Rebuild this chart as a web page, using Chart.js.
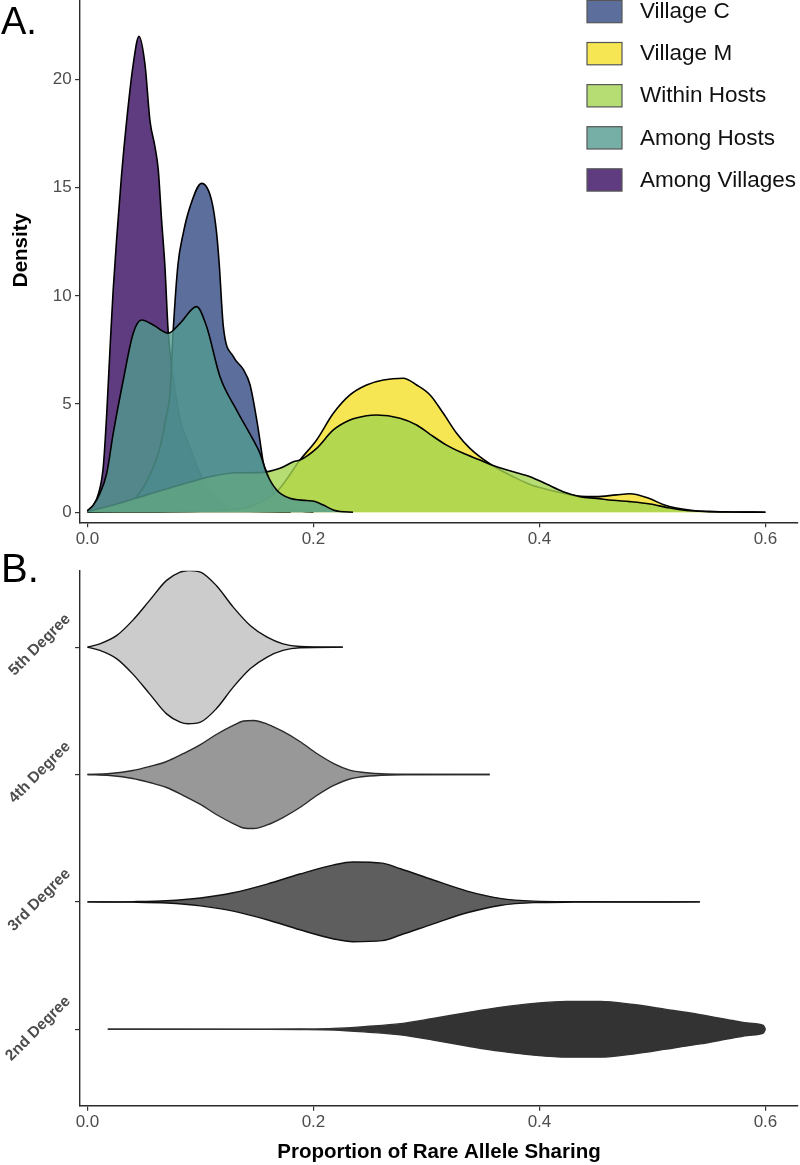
<!DOCTYPE html>
<html>
<head>
<meta charset="utf-8">
<script src="https://cdn.jsdelivr.net/npm/chart.js@4.4.1/dist/chart.umd.min.js"></script>
<style>
  html, body { margin: 0; padding: 0; background: #fff; }
  body { width: 800px; height: 1165px; position: relative; overflow: hidden;
         font-family: "Liberation Sans", Arial, Helvetica, sans-serif; }
  #densityChart { position: absolute; left: 0; top: -22px; }
  #violinChart { position: absolute; left: 0; top: 548px; }
  .tag { position: absolute; left: 1px; line-height: 1; color: #000; }
</style>
</head>
<body>
<canvas id="densityChart" width="800" height="570"></canvas>
<canvas id="violinChart" width="800" height="617"></canvas>
<div class="tag" style="top:2px;font-size:38px">A.</div>
<div class="tag" style="top:548px;font-size:40px">B.</div>
<script>
const FONT = '"Liberation Sans", Arial, Helvetica, sans-serif';

// ---- panel A: density of rare allele sharing ----
const shareTicks = [0, 0.2, 0.4, 0.6];
const densityTicks = [0, 5, 10, 15, 20];
const legendNames = ['Village C', 'Village M', 'Within Hosts', 'Among Hosts', 'Among Villages'];

const amongVillagesX = [0, 0.005, 0.01, 0.014, 0.017, 0.02, 0.0228, 0.0258, 0.0302, 0.0347, 0.0405, 0.0456, 0.0509, 0.0553, 0.0597, 0.0627, 0.0656, 0.0685, 0.0715, 0.0765, 0.082, 0.0907, 0.0996, 0.11, 0.12, 0.13, 0.15, 0.18];
const amongVillagesY = [0.05, 0.3, 0.9, 2.1, 4.5, 7.6, 10.3, 12.6, 15.6, 18.1, 20.7, 22.0, 20.7, 18.1, 16.9, 15.8, 13.5, 11.4, 8.3, 6.0, 4.3, 3.0, 1.8, 0.9, 0.4, 0.15, 0.03, 0];

const villageCX = [0, 0.017, 0.03, 0.0435, 0.055, 0.0642, 0.07, 0.073, 0.076, 0.08, 0.0848, 0.0907, 0.101, 0.1099, 0.1143, 0.1167, 0.1202, 0.129, 0.1379, 0.1438, 0.1497, 0.1527, 0.1556, 0.16, 0.165, 0.17, 0.18, 0.19, 0.2];
const villageCY = [0.02, 0.18, 0.4, 0.72, 1.7, 3.0, 4.5, 5.5, 8.5, 11.4, 12.9, 14.1, 15.2, 14.4, 12.9, 11.4, 8.6, 7.2, 6.6, 5.9, 4.3, 3.3, 2.3, 1.7, 0.9, 0.45, 0.15, 0.05, 0];

const amongHostsX = [0, 0.0052, 0.011, 0.017, 0.0228, 0.0317, 0.0405, 0.0479, 0.0583, 0.0715, 0.0819, 0.0966, 0.1055, 0.1173, 0.132, 0.1467, 0.1527, 0.1586, 0.1674, 0.1792, 0.194, 0.2014, 0.2087, 0.2176, 0.2235, 0.235];
const amongHostsY = [0.07, 0.33, 0.87, 1.79, 3.64, 6.11, 8.27, 8.88, 8.65, 8.27, 8.73, 9.5, 8.57, 6.26, 4.72, 3.34, 2.72, 1.8, 1.03, 0.64, 0.54, 0.49, 0.33, 0.1, 0.03, 0];

const withinHostsX = [0, 0.0228, 0.0524, 0.0819, 0.1113, 0.132, 0.1527, 0.1704, 0.1822, 0.1881, 0.2028, 0.2176, 0.2323, 0.247, 0.2559, 0.2766, 0.2913, 0.3032, 0.3178, 0.3326, 0.3473, 0.3577, 0.3768, 0.3917, 0.4062, 0.421, 0.4359, 0.4506, 0.465, 0.48, 0.498, 0.5155, 0.53, 0.545, 0.57, 0.6];
const withinHostsY = [0.05, 0.33, 0.8, 1.26, 1.67, 1.82, 1.83, 2.03, 2.33, 2.41, 2.95, 3.8, 4.26, 4.46, 4.49, 4.34, 4.03, 3.6, 3.1, 2.72, 2.41, 2.18, 1.87, 1.64, 1.3, 0.95, 0.72, 0.64, 0.55, 0.49, 0.38, 0.19, 0.08, 0.03, 0.01, 0];

const villageMX = [0, 0.1, 0.14, 0.155, 0.169, 0.1881, 0.2028, 0.2176, 0.2323, 0.247, 0.2618, 0.2795, 0.2913, 0.3032, 0.3149, 0.3267, 0.3385, 0.3577, 0.3768, 0.3917, 0.4062, 0.421, 0.436, 0.45, 0.468, 0.48, 0.498, 0.51, 0.521, 0.536, 0.55, 0.57, 0.6];
const villageMY = [0, 0.05, 0.2, 0.5, 1.03, 2.41, 3.34, 4.57, 5.42, 5.88, 6.11, 6.19, 5.88, 5.42, 4.57, 3.65, 2.95, 2.18, 1.64, 1.28, 1.06, 0.88, 0.73, 0.72, 0.8, 0.85, 0.62, 0.34, 0.19, 0.08, 0.04, 0.01, 0];

const seriesFill = {
  'Village C': 'rgba(50,74,131,0.8)',
  'Village M': 'rgba(245,224,41,0.8)',
  'Within Hosts': 'rgba(162,212,80,0.8)',
  'Among Hosts': 'rgba(83,155,144,0.8)',
  'Among Villages': 'rgba(55,11,96,0.8)'
};

// ---- panel B: violins, half width in category units ----
const degreeLabels = ['2nd Degree', '3rd Degree', '4th Degree', '5th Degree'];

const deg5X = [0, 0.011, 0.026, 0.04, 0.055, 0.07, 0.082, 0.089, 0.1, 0.114, 0.129, 0.144, 0.159, 0.173, 0.188, 0.226];
const deg5W = [0, 0.026, 0.092, 0.21, 0.367, 0.524, 0.589, 0.602, 0.589, 0.484, 0.314, 0.17, 0.078, 0.026, 0.005, 0];

const deg4X = [0, 0.02, 0.04, 0.055, 0.07, 0.085, 0.1, 0.114, 0.129, 0.138, 0.147, 0.159, 0.173, 0.188, 0.203, 0.218, 0.232, 0.241, 0.26, 0.28, 0.356];
const deg4W = [0, 0.008, 0.031, 0.063, 0.102, 0.165, 0.235, 0.314, 0.385, 0.42, 0.424, 0.396, 0.338, 0.259, 0.165, 0.086, 0.035, 0.02, 0.006, 0.002, 0];

const deg3X = [0, 0.04, 0.07, 0.1, 0.129, 0.159, 0.188, 0.218, 0.235, 0.261, 0.277, 0.306, 0.336, 0.365, 0.395, 0.43, 0.542];
const deg3W = [0, 0.002, 0.009, 0.031, 0.072, 0.14, 0.219, 0.291, 0.313, 0.304, 0.26, 0.172, 0.085, 0.028, 0.006, 0.002, 0];

const deg2X = [0.018, 0.15, 0.188, 0.218, 0.247, 0.277, 0.306, 0.336, 0.365, 0.395, 0.424, 0.454, 0.483, 0.512, 0.542, 0.571, 0.586, 0.598, 0.6];
const deg2W = [0, 0.001, 0.002, 0.006, 0.022, 0.044, 0.085, 0.131, 0.172, 0.203, 0.219, 0.219, 0.194, 0.156, 0.115, 0.069, 0.047, 0.031, 0];

const toPoints = (xs, ys) => xs.map((x, i) => ({ x: x, y: ys[i] }));

// first dataset is drawn on top
const densitySets = [
  ['Among Hosts', amongHostsX, amongHostsY],
  ['Within Hosts', withinHostsX, withinHostsY],
  ['Village M', villageMX, villageMY],
  ['Village C', villageCX, villageCY],
  ['Among Villages', amongVillagesX, amongVillagesY]
].map(([name, xs, ys]) => ({
  label: name,
  data: toPoints(xs, ys),
  borderColor: '#000',
  borderWidth: 1.6,
  backgroundColor: seriesFill[name],
  fill: 'origin',
  pointRadius: 0,
  cubicInterpolationMode: 'monotone'
}));

const boxLegend = {
  id: 'boxLegend',
  afterDraw(chart) {
    const ctx = chart.ctx;
    ctx.save();
    ctx.font = '22.5px ' + FONT;
    ctx.textBaseline = 'middle';
    legendNames.forEach((name, i) => {
      const top = 22.4 + i * 42.1;
      ctx.fillStyle = '#fff';
      ctx.fillRect(587, top, 35, 22.3);
      ctx.fillStyle = seriesFill[name];
      ctx.fillRect(587, top, 35, 22.3);
      ctx.strokeStyle = '#555';
      ctx.lineWidth = 1.2;
      ctx.strokeRect(587, top, 35, 22.3);
      ctx.fillStyle = '#111';
      ctx.fillText(name, 640, top + 11.6);
    });
    ctx.restore();
  }
};

const axisGrid = { drawOnChartArea: false, tickLength: 5, color: '#333', lineWidth: 1.2 };
const axisBorder = { display: true, color: '#2b2b2b', width: 1.4 };
const tickFont = { size: 17, family: FONT };

new Chart(document.getElementById('densityChart'), {
  type: 'line',
  data: { datasets: densitySets },
  options: {
    responsive: false,
    animation: false,
    events: [],
    layout: { padding: { left: 0, right: 2, top: 0, bottom: 0 } },
    plugins: { legend: { display: false }, tooltip: { enabled: false } },
    scales: {
      x: {
        type: 'linear', min: -0.0066, max: 0.6288,
        afterBuildTicks: s => { s.ticks = shareTicks.map(v => ({ value: v })); },
        afterFit: s => { s.height = 25.7; s.paddingLeft = 0; s.paddingRight = 0; },
        grid: axisGrid, border: axisBorder,
        ticks: { autoSkip: false, maxRotation: 0, padding: 1.5, color: '#4d4d4d', font: tickFont,
                 callback: v => v.toFixed(1) }
      },
      y: {
        type: 'linear', min: -0.467, max: 24.69,
        afterBuildTicks: s => { s.ticks = densityTicks.map(v => ({ value: v })); },
        afterFit: s => { s.width = 80; s.paddingTop = 0; s.paddingBottom = 0; },
        grid: axisGrid, border: axisBorder,
        ticks: { autoSkip: false, padding: 3.3, color: '#4d4d4d', font: tickFont, callback: v => String(v) },
        title: { display: true, text: 'Density', color: '#000',
                 font: { size: 20.5, weight: 'bold', family: FONT }, padding: { top: 8.9, bottom: 0 } }
      }
    }
  },
  plugins: [boxLegend]
});

function violin(xs, ws, pos, fillColour, lineColour) {
  const common = { borderColor: lineColour, borderWidth: 1.4, pointRadius: 0, cubicInterpolationMode: 'monotone' };
  return [
    Object.assign({ data: xs.map((x, i) => ({ x: x, y: pos + ws[i] })), fill: false }, common),
    Object.assign({ data: xs.map((x, i) => ({ x: x, y: pos - ws[i] })), fill: '-1', backgroundColor: fillColour }, common)
  ];
}

const violinSets = [].concat(
  violin(deg5X, deg5W, 4, '#cccccc', '#111'),
  violin(deg4X, deg4W, 3, '#989898', '#2a2a2a'),
  violin(deg3X, deg3W, 2, '#5e5e5e', '#111'),
  violin(deg2X, deg2W, 1, '#333333', '#333333')
);

new Chart(document.getElementById('violinChart'), {
  type: 'line',
  data: { datasets: violinSets },
  options: {
    responsive: false,
    animation: false,
    events: [],
    layout: { padding: { left: 0, right: 2, top: 22.7, bottom: 0 } },
    plugins: { legend: { display: false }, tooltip: { enabled: false } },
    scales: {
      x: {
        type: 'linear', min: -0.0066, max: 0.6288,
        afterBuildTicks: s => { s.ticks = shareTicks.map(v => ({ value: v })); },
        afterFit: s => { s.height = 59.3; },
        grid: axisGrid, border: axisBorder,
        ticks: { autoSkip: false, maxRotation: 0, padding: 1.5, color: '#4d4d4d', font: tickFont,
                 callback: v => v.toFixed(1) },
        title: { display: true, text: 'Proportion of Rare Allele Sharing', color: '#000',
                 font: { size: 20.5, weight: 'bold', family: FONT }, padding: { top: 0, bottom: 0 } }
      },
      y: {
        type: 'linear', min: 0.4, max: 4.6,
        afterBuildTicks: s => { s.ticks = [1, 2, 3, 4].map(v => ({ value: v })); },
        afterFit: s => { s.width = 80; },
        grid: axisGrid, border: axisBorder,
        ticks: { autoSkip: false, minRotation: 45, maxRotation: 45, labelOffset: -30.5, padding: 7,
                 color: '#4d4d4d', font: { size: 15.5, weight: 'bold', family: FONT },
                 callback: v => degreeLabels[v - 1] }
      }
    }
  }
});
</script>
</body>
</html>
